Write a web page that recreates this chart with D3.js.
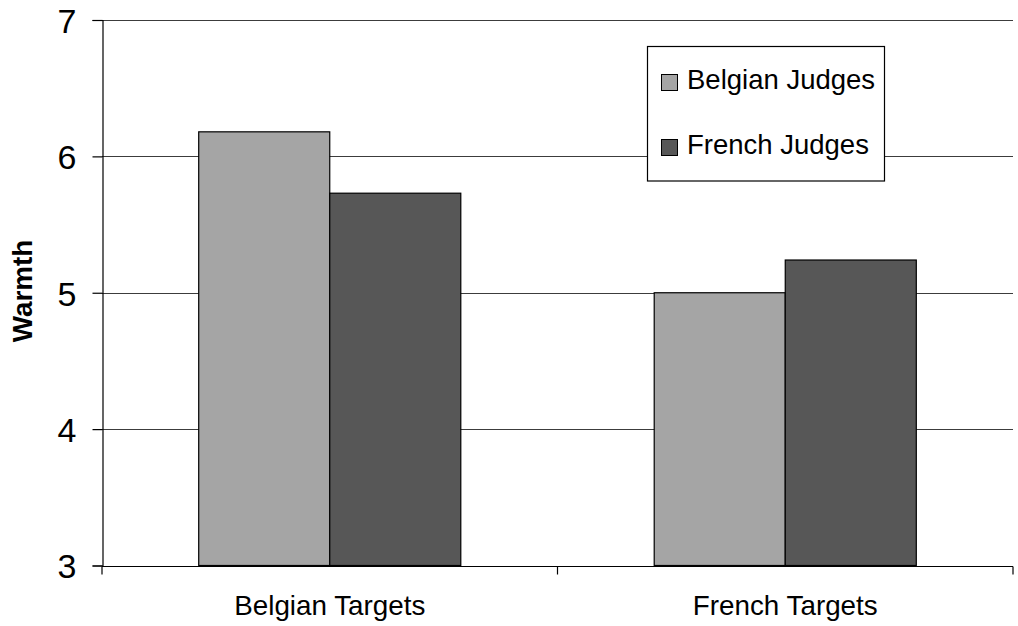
<!DOCTYPE html>
<html>
<head>
<meta charset="utf-8">
<script src="https://cdn.jsdelivr.net/npm/d3@7"></script>
<style>
html,body{margin:0;padding:0;background:#fff;}
svg{display:block;font-family:"Liberation Sans",Arial,sans-serif;}
</style>
</head>
<body>
<svg id="chart" width="1018" height="626"></svg>
<script>
const categories = ["Belgian Targets", "French Targets"];
const seriesNames = ["Belgian Judges", "French Judges"];
const belgianJudges = [6.18, 5.00];
const frenchJudges = [5.73, 5.24];
const yTicks = [3, 4, 5, 6, 7];
const seriesColors = ["#a5a5a5", "#575757"];
const yTitle = "Warmth";

const seriesValues = [belgianJudges, frenchJudges];
const data = categories.map((c, i) => ({cat: c, vals: seriesNames.map((s, j) => ({s, v: seriesValues[j][i], j}))}));

const svg = d3.select("#chart");
const mLeft = 102, mRight = 1013, mTop = 20, mBottom = 565.5;

const x = d3.scaleBand().domain(categories).range([mLeft, mRight]).padding(0);
const x1 = d3.scaleBand().domain(seriesNames).range([0, x.bandwidth()]).paddingInner(0).paddingOuter(0.738);
const y = d3.scaleLinear().domain([3, 7]).range([mBottom, mTop]);

// gridlines
svg.append("g").selectAll("line").data(yTicks.filter(t => t !== 3)).join("line")
  .attr("x1", mLeft).attr("x2", mRight)
  .attr("y1", d => Math.round(y(d)) + 0.5).attr("y2", d => Math.round(y(d)) + 0.5)
  .attr("stroke", "#3c3c3c").attr("stroke-width", 1.2);

// bars
const g = svg.append("g").selectAll("g").data(data).join("g")
  .attr("transform", d => `translate(${x(d.cat)},0)`);
g.selectAll("rect").data(d => d.vals).join("rect")
  .attr("x", d => x1(d.s))
  .attr("width", x1.bandwidth())
  .attr("y", d => y(d.v))
  .attr("height", d => y(3) - y(d.v))
  .attr("fill", d => seriesColors[d.j])
  .attr("stroke", "#000").attr("stroke-width", 1.2);

// y axis
const yAxis = d3.axisLeft(y).tickValues(yTicks).tickSize(10).tickPadding(16).tickFormat(d3.format("d"));
const ya = svg.append("g").attr("transform", `translate(${mLeft + 0.5},0)`).call(yAxis);
ya.select(".domain").attr("stroke", "#000").attr("stroke-width", 1.2);
ya.selectAll(".tick line").attr("stroke", "#000").attr("stroke-width", 1.2);
ya.selectAll(".tick text").attr("font-size", 34).attr("fill", "#000")
  .attr("font-family", "'Liberation Sans', Arial, sans-serif").attr("dy", "0.36em");

// x axis
const xAxis = d3.axisBottom(x).tickSize(0).tickPadding(0);
const xa = svg.append("g").attr("transform", `translate(0,${Math.round(mBottom) + 0.5})`).call(xAxis);
xa.select(".domain").remove();
xa.append("line").attr("x1", mLeft).attr("x2", mRight).attr("stroke", "#000").attr("stroke-width", 1.2);
const boundaries = [mLeft, mLeft + x.bandwidth(), mRight];
xa.selectAll(".bnd").data(boundaries).join("line").attr("class", "bnd")
  .attr("x1", d => d).attr("x2", d => d).attr("y1", 0).attr("y2", 8)
  .attr("stroke", "#000").attr("stroke-width", 1.2);
xa.selectAll(".tick text").attr("font-size", 27.8).attr("fill", "#000")
  .attr("font-family", "'Liberation Sans', Arial, sans-serif")
  .attr("dy", null).attr("y", 48);

// y title
svg.append("text")
  .attr("transform", `translate(32,291) rotate(-90)`)
  .attr("text-anchor", "middle")
  .attr("font-size", 27.8).attr("font-weight", "bold").attr("fill", "#000")
  .text(yTitle);

// legend
const lg = svg.append("g");
lg.append("rect").attr("x", 647.5).attr("y", 46.5).attr("width", 237).attr("height", 134.5)
  .attr("fill", "#fff").attr("stroke", "#000").attr("stroke-width", 1.2);
const li = lg.selectAll("g.item").data(seriesNames).join("g").attr("class", "item")
  .attr("transform", (d, i) => `translate(661,${74 + i * 65})`);
li.append("rect").attr("x", 0.5).attr("y", 0.5).attr("width", 16).attr("height", 16)
  .attr("fill", (d, i) => seriesColors[i]).attr("stroke", "#000").attr("stroke-width", 1);
li.append("text").attr("x", 26).attr("y", 14.5).attr("font-size", 27.5).attr("fill", "#000").text(d => d);
</script>
</body>
</html>
